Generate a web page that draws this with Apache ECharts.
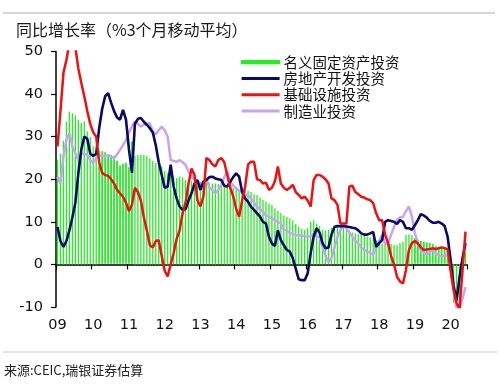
<!DOCTYPE html>
<html><head><meta charset="utf-8">
<script src="https://cdn.jsdelivr.net/npm/echarts@6/dist/echarts.min.js"></script>
<style>html,body{margin:0;padding:0;background:#fff}#c{width:500px;height:389px}</style>
</head><body><div id="c"></div>
<script>
// ---- data (monthly, Jan 2009 – Jun 2020) ----
const yearLabels = ["09","10","11","12","13","14","15","16","17","18","19","20"];
const seriesNames = ["名义固定资产投资","房地产开发投资","基础设施投资","制造业投资"];
const fai = [
  24.5,26,29,33.5,35.9,35.5,35,34,33.2,33.6,31.2,30,
  27.7,26.9,26.9,26.7,26.5,26.1,25.9,25.7,24.5,23.4,23.8,24,
  23,29,25.5,25.7,25.7,25.7,25.5,24.9,24.3,23.8,23.5,23,
  22,21.4,21,20.6,20.3,20.6,20.4,19.8,19.8,19.6,19.4,19.4,
  19.4,19.4,19.4,19.2,19,19,18.9,18.7,18.5,18.3,18,17.9,
  17.7,17.5,17.2,17.5,17.3,17,16.5,16.3,15.7,15.1,14.8,14.3,
  14,13.2,12.6,12,11.5,11.2,10.8,10.4,9.5,8.8,8.3,8.1,
  8.5,10,10.4,9.6,9,8.1,8,8.1,8.6,9.2,9,8.8,
  8.5,8.1,7.8,7.5,7.3,7.2,7,6.8,6.5,6.3,6,5.7,
  5.3,4.9,4.9,4.9,4.8,4.6,4.5,5,5.3,6.9,7,6.9,
  6.3,5.9,5.7,5.5,5.3,5.2,5,4.5,4.2,4.1,4.1,4,
  -3,-9,-10,-9,-3,3
];
const realEstate = [
  8.8,5.5,4.1,5.5,8,11,14.5,21.4,27,30,29.5,26,
  25.5,26,32,36.5,39.5,40.2,38,36,34.5,34,36.3,34,
  27,21.5,33,34.2,34.4,33.5,32.8,32,31,28,24,21,
  18,18.3,23.4,18.3,15.5,13.6,12.8,13,15,16.7,19,19.8,
  17.5,19.5,19.8,20.5,20.6,20.2,20,19.8,18.5,18.3,19.4,20.5,
  21.4,20.6,17,15.5,14.7,13.5,12.8,12,11.2,10,9.6,6.5,
  4.9,4.3,8,5.7,4.5,3.4,3,1.5,-1,-3.5,-3.7,-3.7,
  -2.1,2.6,6.5,8.5,7.5,5,3.8,4,7,8.8,9,9,
  9,8.9,8.8,8.6,8.5,8,7.3,7,7,7.3,7.6,4.1,
  5,5.7,10,10.4,10.2,10,9.5,10.4,10,8.5,8.5,8.1,
  9.2,10.4,11.8,11.5,11,10.2,9.8,9.8,10,9.6,9,6.5,
  1,-5,-8.5,-3,1.5,5
];
const infra = [
  27.7,36,45,48,52,53,51,46,42.6,39.5,36,33,
  31,30,24,21.5,21,20.8,20,19,17.5,16.7,15.9,14.5,
  12.5,14,18,17,15,11,8,4.5,4,5.5,5.7,2,
  -1.5,-2.8,0,2.6,6,8,12,14.5,19,22.5,21,15,
  13.6,16,25,24.5,23.5,23,24.5,25,24,21,18,16,
  13,11.2,15,18.3,23.5,24.1,24.1,20,19.8,19,19.2,17.5,
  18,19.5,23,19,18,17.5,18,18.7,17,16.3,15.5,15.9,
  15,13.6,19.8,21,21,20.6,20,19,15.5,15.1,14,9.6,
  9.6,9.6,18.3,18.5,17,16.5,15.9,15.7,15.3,15.1,14.4,12,
  10.4,10.4,7,5,2,0,-2.9,-4,-4.5,-1.3,3.4,5,
  5.5,4.9,4,3.4,3.5,3.6,3.8,3.6,3.8,4,3.8,3.6,
  -1.5,-6,-9.1,-10.5,-1.3,7.7
];
const manufacturing = [
  20.6,19,25.3,29.2,30.8,27.7,26.1,24.5,26,26,25.7,24.5,
  23.8,25,25.7,25.5,25.3,25.7,25.3,24.9,25.8,26.9,28,29.2,
  31,32.4,33.6,33,32.4,32.8,33,33.2,31.2,30.6,31.5,32.4,
  31.5,30,24.5,24.3,24.1,24.5,24,23.4,21.8,20.6,20,19.4,
  17.5,19,20.2,18,17.5,16.7,17.5,18.7,20.5,21.8,19.4,18.5,
  17.9,17.3,17,16.5,16.3,15.5,14.5,13.6,13,12.4,11.5,11.2,
  10.8,10.4,10,9.6,8.1,8,7.3,7.2,6.8,6.9,6.8,6.6,
  6.5,6.7,7.3,6.5,6.5,4,2,0.5,1.5,4,6.5,8,
  9.2,8.5,7.5,6.5,5.5,4.9,4,3.4,3,2.7,2.2,4.5,
  5.5,6.9,4.9,4.9,7,8.8,10.5,11,11.2,12.5,13.6,11.2,
  7.3,5,3.4,2.8,2.2,3,3.4,2.6,2.2,1.8,2.2,2,
  1,-5.3,-10.5,-10.5,-8,-5.3
];
// index ranges where the bars render as a solid block in the original
const solidRanges = [[14,25],[120,131]];

// ---- styling ----
const GREEN = '#22ee22', NAVY = '#0a0a66', RED = '#ee1111', LAV = '#c9a3f2';
const months = fai.map((_, i) => (2009 + Math.floor(i / 12)) + '-' + String(i % 12 + 1).padStart(2, '0'));
const inSolid = i => solidRanges.some(r => i >= r[0] && i <= r[1]);
const barData = fai.map((v, i) => inSolid(i)
  ? { value: v, itemStyle: { borderColor: GREEN, borderWidth: 1.8 } }
  : v);

const chart = echarts.init(document.getElementById('c'), null, { renderer: 'canvas' });
const FONT = '"DejaVu Sans", Verdana, sans-serif';
const CJK = '"Noto Sans CJK SC", sans-serif';
chart.setOption({
  animation: false,
  backgroundColor: '#fff',
  textStyle: { fontFamily: FONT },
  graphic: [
    { type: 'line', shape: { x1: 3, y1: 13, x2: 495, y2: 13 }, style: { stroke: '#c8c8c8', lineWidth: 1.5 } },
    { type: 'line', shape: { x1: 3, y1: 352, x2: 497, y2: 352 }, style: { stroke: '#c8c8c8', lineWidth: 1 } },
    { type: 'text', left: 16, top: 22, style: { text: '同比增长率（%3个月移动平均）', font: '16px ' + CJK, fill: '#1a1a1a' } },
    { type: 'text', left: 4, top: 364, style: { text: '来源:CEIC,瑞银证券估算', font: '13px ' + CJK, fill: '#222' } }
  ],
  legend: {
    orient: 'vertical', left: 241, top: 54, itemGap: 0, itemWidth: 38, itemHeight: 3,
    icon: 'rect', padding: 0,
    data: [
      { name: seriesNames[0], itemStyle: { borderColor: GREEN, borderWidth: 1.2 } },
      seriesNames[1], seriesNames[2], seriesNames[3]
    ],
    textStyle: { fontFamily: CJK, fontSize: 14.5, color: '#111', lineHeight: 16.3, padding: [0, 0, 0, -1] }
  },
  grid: { left: 56, right: 33, top: 51.5, bottom: 82, containLabel: false },
  xAxis: [
    {
      type: 'category', data: months, boundaryGap: true,
      axisLine: { onZero: true, lineStyle: { color: '#000', width: 1.5 } },
      axisTick: { show: true, interval: i => i % 12 === 0, length: 5, lineStyle: { color: '#000', width: 1.2 } },
      axisLabel: { show: false }
    },
    {
      type: 'category', data: months, boundaryGap: true, position: 'bottom',
      axisLine: { show: false, onZero: false }, axisTick: { show: false },
      axisLabel: {
        interval: 0, margin: 11, fontSize: 14.5, color: '#111', fontFamily: FONT,
        formatter: (v, i) => (i % 12 === 0 ? yearLabels[i / 12] : '')
      }
    }
  ],
  yAxis: {
    type: 'value', min: -10, max: 50, interval: 10,
    axisLine: { show: true, lineStyle: { color: '#000', width: 1.5 } },
    axisTick: { show: true, length: 5, lineStyle: { color: '#000', width: 1.2 } },
    axisLabel: { fontSize: 14.5, color: '#111', margin: 13, fontFamily: FONT },
    splitLine: { show: false }
  },
  series: [
    { name: seriesNames[0], type: 'bar', data: barData, barWidth: 1.3, itemStyle: { color: GREEN }, z: 1 },
    { name: seriesNames[3], type: 'line', data: manufacturing, symbol: 'none', lineStyle: { color: LAV, width: 2.5 }, itemStyle: { color: LAV }, z: 2 },
    { name: seriesNames[1], type: 'line', data: realEstate, symbol: 'none', lineStyle: { color: NAVY, width: 2.6 }, itemStyle: { color: NAVY }, z: 3 },
    { name: seriesNames[2], type: 'line', data: infra, symbol: 'none', lineStyle: { color: RED, width: 2.5 }, itemStyle: { color: RED }, z: 4 }
  ]
});
</script></body></html>
